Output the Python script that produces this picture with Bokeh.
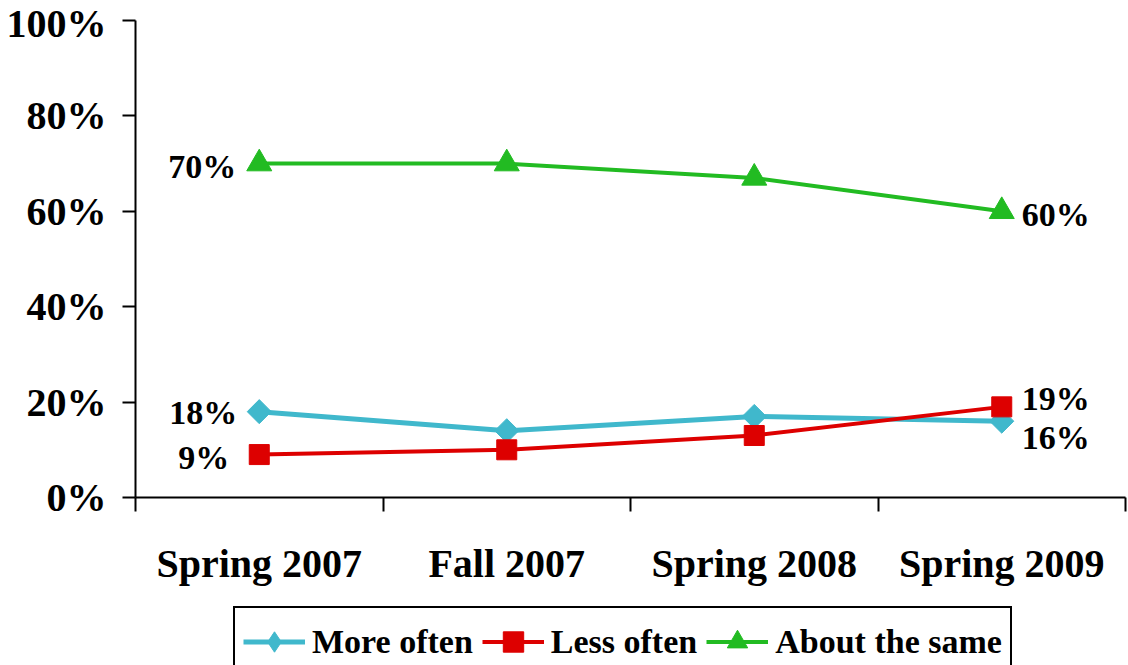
import math
from bokeh.plotting import figure
from bokeh.layouts import column
from bokeh.models import (FixedTicker, Legend, LegendItem, ColumnDataSource, Range1d,
                          PrintfTickFormatter, LabelSet)
from bokeh.embed import file_html
from bokeh.resources import INLINE

categories = ["Spring 2007", "Fall 2007", "Spring 2008", "Spring 2009"]
series_names = ["More often", "Less often", "About the same"]
more_often = [18, 14, 17, 16]
less_often = [9, 10, 13, 19]
about_same = [70, 70, 67, 60]
y_ticks = [0, 20, 40, 60, 80, 100]

xs = [i + 0.5 for i in range(len(categories))]
FONT = "Liberation Serif"
CYAN = "#40B8CC"
RED = "#DD0000"
GREEN = "#22BB22"
NAN = float("nan")

p = figure(width=1128, height=600, output_backend="svg", toolbar_location=None,
           x_range=Range1d(0, 4), y_range=Range1d(0, 100),
           min_border_left=135, min_border_right=3, min_border_top=20, min_border_bottom=103)
p.outline_line_color = None
p.grid.grid_line_color = None

p.yaxis.ticker = FixedTicker(ticks=y_ticks)
p.yaxis.formatter = PrintfTickFormatter(format="%d%%")
p.yaxis.major_tick_out = 13
p.yaxis.major_tick_in = 0
p.yaxis.minor_tick_out = 0
p.yaxis.minor_tick_in = 0
p.yaxis.major_label_standoff = 16
p.yaxis.axis_line_width = 2
p.yaxis.major_tick_line_width = 2
p.yaxis.major_label_text_font = FONT
p.yaxis.major_label_text_font_style = "bold"
p.yaxis.major_label_text_font_size = "40px"
p.yaxis.major_label_text_color = "black"

p.xaxis.ticker = FixedTicker(ticks=xs, minor_ticks=[0, 1, 2, 3, 4])
p.xaxis.major_label_overrides = {x: c for x, c in zip(xs, categories)}
p.xaxis.major_tick_out = 0
p.xaxis.major_tick_in = 0
p.xaxis.minor_tick_out = 14
p.xaxis.minor_tick_in = 0
p.xaxis.minor_tick_line_width = 2
p.xaxis.minor_tick_line_color = "black"
p.xaxis.axis_line_width = 2
p.xaxis.major_label_standoff = 29
p.xaxis.major_label_text_font = FONT
p.xaxis.major_label_text_font_style = "bold"
p.xaxis.major_label_text_font_size = "40px"
p.xaxis.major_label_text_color = "black"

p.line(xs, more_often, line_color=CYAN, line_width=5)
p.scatter(xs, more_often, marker="square", angle=math.pi / 4, size=17,
          fill_color=CYAN, line_color=CYAN)
p.line(xs, less_often, line_color=RED, line_width=4)
p.scatter(xs, less_often, marker="square", size=20, fill_color=RED, line_color=RED)
p.line(xs, about_same, line_color=GREEN, line_width=4)
p.scatter(xs, about_same, marker="triangle", size=25, fill_color=GREEN, line_color=GREEN)

def add_labels(x, y, text, x_off, y_off, align):
    src = ColumnDataSource(dict(x=x, y=y, t=text))
    p.add_layout(LabelSet(x="x", y="y", text="t", source=src, x_offset=x_off, y_offset=y_off,
                          text_align=align, text_baseline="middle", text_font=FONT,
                          text_font_style="bold", text_font_size="34px", text_color="black"))

add_labels([xs[0]], [about_same[0]], [f"{about_same[0]}%"], -23, -3, "right")
add_labels([xs[-1]], [about_same[-1]], [f"{about_same[-1]}%"], 20, -3, "left")
add_labels([xs[0]], [more_often[0]], [f"{more_often[0]}%"], -22, -1, "right")
add_labels([xs[0]], [less_often[0]], [f"{less_often[0]}%"], -30, -3, "right")
add_labels([xs[-1]], [less_often[-1]], [f"{less_often[-1]}%"], 20, 8, "left")
add_labels([xs[-1]], [more_often[-1]], [f"{more_often[-1]}%"], 20, -16, "left")

# legend strip below the chart (legend-only renderers, no visible data)
q = figure(width=1128, height=65, output_backend="svg", toolbar_location=None,
           x_axis_location=None, y_axis_location=None, x_range=Range1d(0, 1), y_range=Range1d(0, 1),
           min_border_left=135, min_border_right=3, min_border_top=0, min_border_bottom=0)
q.outline_line_color = None
q.grid.grid_line_color = None
ql1 = q.line([NAN], [NAN], line_color=CYAN, line_width=5)
qm1 = q.scatter([NAN], [NAN], marker="diamond", fill_color=CYAN, line_color=CYAN)
ql2 = q.line([NAN], [NAN], line_color=RED, line_width=4)
qm2 = q.scatter([NAN], [NAN], marker="square", fill_color=RED, line_color=RED)
ql3 = q.line([NAN], [NAN], line_color=GREEN, line_width=4)
qm3 = q.scatter([NAN], [NAN], marker="triangle", fill_color=GREEN, line_color=GREEN)

legend = Legend(items=[
    LegendItem(label=series_names[0], renderers=[ql1, qm1]),
    LegendItem(label=series_names[1], renderers=[ql2, qm2]),
    LegendItem(label=series_names[2], renderers=[ql3, qm3]),
], orientation="horizontal", location=(98, -12))
legend.glyph_width = 62
legend.glyph_height = 51
legend.label_standoff = 7
legend.spacing = 9
legend.padding = 8
legend.margin = 0
legend.border_line_color = "black"
legend.border_line_alpha = 1
legend.border_line_width = 2
legend.label_text_font = FONT
legend.label_text_font_style = "bold"
legend.label_text_font_size = "34px"
legend.label_text_color = "black"
legend.background_fill_alpha = 1
q.add_layout(legend, "center")

layout = column(p, q, spacing=0)
open("out.html", "w").write(file_html(layout, INLINE))
